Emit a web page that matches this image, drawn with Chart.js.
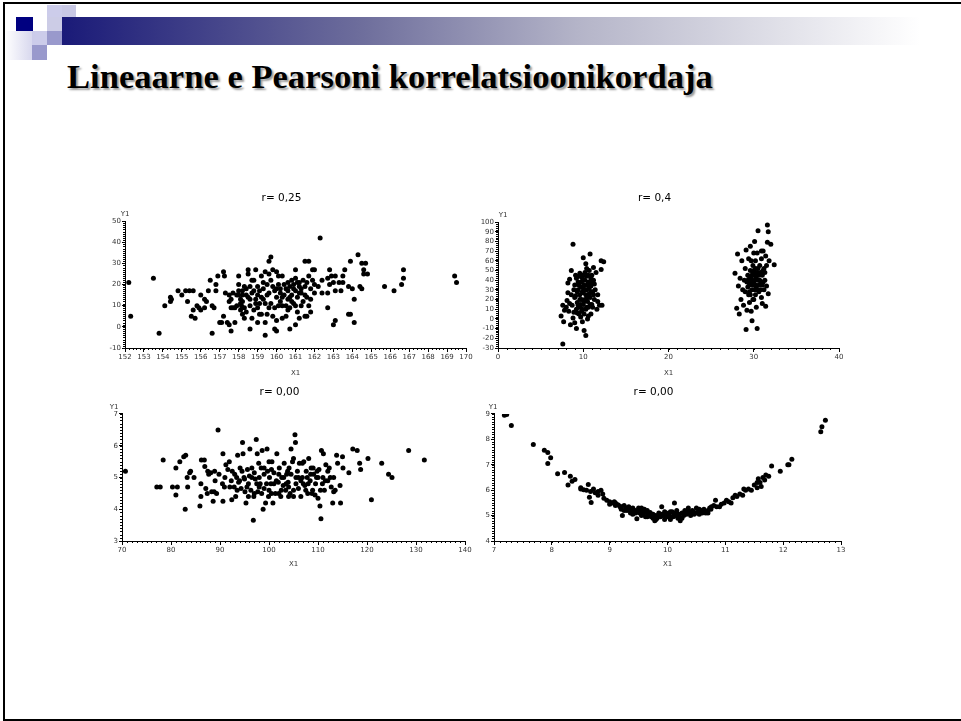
<!DOCTYPE html>
<html>
<head>
<meta charset="utf-8">
<script src="https://cdn.jsdelivr.net/npm/chart.js@4.4.1/dist/chart.umd.min.js"></script>
<style>
  html, body { margin: 0; padding: 0; background: #fff; width: 961px; height: 721px; overflow: hidden; position: relative; }
  .frame { position: absolute; left: 3px; top: 2px; width: 980px; height: 715px; border: 2px solid #000; border-right: none; }
  .sq { position: absolute; }
  .bar { position: absolute; left: 62px; top: 17px; width: 858px; height: 28px;
         background: linear-gradient(to right, #1a1a78 0%, #6e6e9c 35%, #b4b4c8 60%, #ffffff 100%); }
  .fade { position: absolute; left: 5px; top: 31px; width: 27px; height: 29px;
          background: linear-gradient(to right, #ffffff, #d8d8ee); }
  h1 { position: absolute; left: 67px; top: 59px; margin: 0; font: bold 34.6px/1 "Liberation Serif", "Times New Roman", serif;
       color: #000; text-shadow: 2px 2px 2px #9a9a9a; white-space: nowrap; }
  canvas { position: absolute; }
</style>
</head>
<body>
<div class="frame"></div>
<div class="bar"></div>
<div class="fade"></div>
<div class="sq" style="left:47px;top:5px;width:15px;height:12px;background:#ccccea"></div>
<div class="sq" style="left:62px;top:5px;width:14px;height:12px;background:#c8c8e4"></div>
<div class="sq" style="left:16px;top:17px;width:17px;height:14px;background:#000080"></div>
<div class="sq" style="left:47px;top:17px;width:15px;height:14px;background:#cccce6"></div>
<div class="sq" style="left:32px;top:31px;width:15px;height:14px;background:#ccccea"></div>
<div class="sq" style="left:47px;top:31px;width:15px;height:14px;background:#9999cc"></div>
<div class="sq" style="left:32px;top:45px;width:15px;height:15px;background:#9999cc"></div>
<h1>Lineaarne e Pearsoni korrelatsioonikordaja</h1>

<canvas id="c1"></canvas>
<canvas id="c2"></canvas>
<canvas id="c3"></canvas>
<canvas id="c4"></canvas>

<script>
// panel titles
const titles = ['r= 0,25', 'r= 0,4', 'r= 0,00', 'r= 0,00'];

// axis ranges and tick steps: [min, max, major step, minor step]
const xAxes = [[152, 170, 1, 0.2], [0, 40, 10, 1], [70, 140, 10, 1], [7, 13, 1, 0.1]];
const yAxes = [[-10, 50, 10, 1], [-30, 100, 10, 2], [3, 7, 1, 0.1], [4, 9, 1, 0.1]];

// r = 0,25
const points1 = [
  [152.2,21],[152.3,5],[153.5,23],[153.8,-3],[154.1,10],[154.4,12],[154.4,14],[154.45,13],[154.8,17],[155.0,15],
  [155.2,17],[155.4,17],[155.6,17],[155.5,5],[155.7,4],[155.6,8],[155.8,10],[155.9,9],[156.0,8],[156.0,15],
  [156.2,9],[156.3,12],[156.4,17],[156.5,22],[156.6,10],[156.6,-3],[156.7,9],[156.8,17],[156.8,20],[156.9,24],
  [157.2,26],[157.25,24],[157.0,2],[157.1,2],[157.2,5],[157.4,2],[157.5,1],[157.5,15],[157.6,13],[157.6,9],
  [157.6,-2],[157.7,16],[157.8,9],[157.9,10],[158.0,24],[158.0,17],[158.0,15],[158.1,13],[158.1,11],[158.15,10],
  [158.2,17],[158.2,12],[158.3,9],[158.3,4],[158.4,18],[158.4,7],[158.5,27],[158.5,25],[158.5,14],[158.6,10],
  [158.6,-1],[158.7,22],[158.7,16],[158.8,8],[158.8,17],[158.9,27],[158.9,11],[159.0,2],[159.0,15],[159.1,17],
  [159.1,11],[159.2,24],[159.2,6],[159.3,18],[159.3,13],[159.4,26],[159.4,-4],[159.4,11],[159.5,20],[159.5,6],
  [159.6,31],[159.6,25],[159.6,16],[159.7,33],[159.7,22],[159.7,11],[159.8,27],[159.8,5],[159.9,17],[159.9,9],
  [159.9,-1],[160.0,26],[160.0,14],[160.0,3],[160.0,-2],[160.1,20],[160.1,10],[160.2,18],[160.2,12],[160.3,24],
  [160.3,10],[160.4,15],[160.5,10],[160.5,5],[160.6,21],[160.6,17],[160.6,13],[160.7,19],[160.7,9],[160.7,-1],
  [160.8,22],[160.8,15],[160.9,20],[160.9,11],[161.0,27],[161.0,23],[161.0,17],[161.0,1],[161.1,21],[161.1,14],
  [161.1,7],[161.2,19],[161.2,4],[161.3,16],[161.3,10],[161.4,22],[161.4,12],[161.5,31],[161.5,19],[161.6,14],
  [161.6,5],[161.7,31],[161.7,24],[161.8,18],[161.8,13],[161.8,7],[161.9,27],[161.9,22],[162.0,27],[162.0,16],
  [162.3,42],[162.4,22],[162.4,16],[162.7,23],[162.7,16],[162.7,9],[162.8,27],[162.8,20],[162.9,24],[163.0,1],
  [163.1,24],[163.1,17],[163.1,3],[163.3,21],[163.4,17],[163.5,21],[163.6,27],[163.8,19],[163.8,6],[163.9,6],
  [163.9,31],[164.0,18],[164.1,13],[164.1,2],[164.3,34],[164.4,19],[164.5,30],[164.5,18],[164.6,27],[164.6,25],
  [164.7,30],[164.8,25],[165.7,19],[166.2,17],[166.6,20],[166.7,23],[166.7,27],[169.4,24],[169.5,21],
  [158.2,15],[158.6,13],[159.0,19],[160.4,20],[160.8,12],[161.2,16],[158.9,13],[157.9,15],
  [157.3,16],[157.5,12],[157.7,9],[158.0,20],[158.1,8],[158.3,19],[158.4,15],[158.6,19],[158.8,22],[159.0,9],
  [159.1,6],[159.2,14],[159.3,21],[159.5,15],[159.6,9],[159.8,19],[160.0,18],[160.1,24],[160.2,16],[160.3,14],
  [160.5,18],[160.6,8],[160.7,14],[160.9,18],[161.0,10],[161.2,21],[161.3,18],[161.5,15],[161.6,21],[161.7,10],
  [162.0,20],[162.2,19],[158.2,6],[157.8,2],[158.7,4],[159.4,2],[160.3,4],[161.5,5],[156.2,13],[155.3,12],
  [163.0,21],[163.5,24]
];

// r = 0,4
const points2 = [
  [7.6,-26],[7.4,3],[7.6,14],[7.7,-3],[7.8,9],[8.1,19],[8.2,27],[8.2,37],[8.4,41],[8.5,-6],
  [8.6,50],[8.7,14],[8.8,1],[8.8,77],[8.9,30],[9.0,22],[9.0,-4],[9.1,45],[9.2,10],[9.2,-10],
  [9.3,17],[9.3,28],[9.4,38],[9.5,5],[9.5,44],[9.6,12],[9.6,25],[9.7,33],[9.8,8],[9.8,20],
  [9.9,42],[9.9,-3],[10.0,15],[10.0,27],[10.0,63],[10.1,5],[10.1,35],[10.1,-12],[10.2,48],[10.2,20],
  [10.3,-17],[10.3,57],[10.3,10],[10.4,30],[10.4,44],[10.5,0],[10.5,22],[10.6,38],[10.6,12],[10.7,50],
  [10.7,26],[10.8,67],[10.8,15],[10.9,34],[10.9,5],[11.0,45],[11.1,28],[11.2,53],[11.2,40],[11.3,20],
  [11.4,30],[11.5,48],[11.6,10],[11.7,18],[11.7,25],[11.9,14],[12.1,60],[12.1,51],[12.2,14],[12.4,59],
  [9.4,14],[9.7,2],[10.2,40],[10.0,32],[9.1,24],[8.9,7],[10.5,18],[10.9,42],[11.1,12],[9.6,47],
  [8.4,16],[8.0,12],[9.5,35],[10.6,3],[11.3,36],
  [9.0,35],[9.2,42],[9.4,30],[9.6,20],[9.8,38],[9.9,28],[10.0,45],[10.1,18],[10.2,30],[10.3,25],
  [10.4,12],[10.5,35],[10.6,45],[10.7,32],[10.8,22],[10.9,28],[11.0,38],[11.0,15],[9.3,6],[9.7,15],
  [10.4,52],[8.6,25],[8.3,8],[11.2,25],[9.9,10],
  [27.8,47],[28.0,11],[28.1,67],[28.2,34],[28.3,5],[28.4,42],[28.5,20],[28.6,60],[28.7,30],[28.8,14],
  [29.0,28],[29.1,-11],[29.1,71],[29.2,38],[29.2,9],[29.3,45],[29.4,25],[29.4,62],[29.5,35],[29.5,17],
  [29.6,75],[29.6,50],[29.7,42],[29.7,8],[29.8,30],[29.8,-2],[29.9,55],[29.9,20],[30.0,68],[30.0,38],
  [30.1,80],[30.1,45],[30.2,25],[30.2,52],[30.3,33],[30.3,12],[30.4,-10],[30.4,68],[30.4,48],[30.5,91],
  [30.5,40],[30.6,28],[30.7,55],[30.8,36],[30.9,22],[30.9,62],[31.0,45],[31.0,16],[31.1,70],[31.2,30],
  [31.2,52],[31.3,40],[31.4,65],[31.4,13],[31.5,34],[31.5,55],[31.6,97],[31.6,79],[31.7,90],[31.7,26],
  [31.8,60],[32.0,77],[32.4,56],[29.5,44],[30.6,35],[29.9,47],[30.8,48],[29.3,33],[30.1,30],[31.1,38],
  [29.7,60],[30.0,20],
  [29.3,40],[29.5,28],[29.6,38],[29.8,45],[29.9,35],[30.0,50],[30.1,40],[30.2,35],[30.3,42],[30.4,30],
  [30.5,52],[30.6,45],[30.7,40],[30.8,30],[31.0,35],[31.1,50],[30.2,60],[29.6,25],[29.0,52],[31.3,48],
  [30.9,70],[28.9,40]
];

// r = 0,00 (cloud)
const points3 = [
  [70.7,5.2],[77.1,4.7],[77.8,4.7],[78.4,5.55],[80.3,4.7],[81.0,4.45],[81.0,5.3],[81.3,4.7],[81.8,5.5],[82.6,5.65],
  [83.0,5.7],[82.9,4.0],[83.3,5.0],[83.4,4.7],[83.8,5.15],[84.0,5.2],[84.7,5.0],[85.9,4.1],[86.1,4.4],[86.2,5.55],
  [86.1,4.8],[86.8,5.55],[86.9,5.35],[87.1,4.65],[87.4,4.5],[87.7,5.1],[88.1,5.15],[88.3,4.55],[88.6,4.25],[88.8,4.55],
  [88.9,5.2],[89.3,4.5],[89.6,6.5],[89.8,5.1],[90.6,5.75],[90.5,4.8],[90.6,4.25],[90.9,4.7],[91.2,5.4],[91.6,5.25],
  [91.9,5.5],[92.3,4.9],[92.4,4.3],[92.9,4.7],[93.2,4.4],[93.4,5.0],[93.6,5.7],[93.8,4.85],[94.1,5.3],[94.3,4.65],
  [94.6,6.1],[94.7,5.75],[94.9,5.0],[95.1,4.55],[95.3,4.2],[95.6,5.25],[95.8,4.8],[96.1,5.9],[96.3,4.6],[96.5,5.3],
  [96.8,3.65],[96.9,4.4],[97.2,4.95],[97.4,6.2],[97.6,5.75],[97.7,4.55],[97.9,5.45],[98.2,4.8],[98.4,5.3],[98.6,5.85],
  [98.8,4.0],[99.0,4.65],[99.3,4.2],[99.6,5.9],[99.7,5.2],[99.9,4.4],[100.1,5.0],[100.4,4.8],[100.6,5.5],[100.8,4.2],
  [101.0,5.15],[101.3,4.5],[101.6,5.75],[101.9,4.85],[102.1,5.3],[102.4,4.4],[102.6,5.0],[102.9,4.75],[103.1,5.45],[103.4,4.6],
  [103.6,5.1],[103.9,4.85],[104.1,5.3],[104.3,4.5],[104.5,5.9],[104.8,5.5],[105.0,4.4],[105.3,6.35],[105.4,6.1],[105.5,4.8],
  [105.8,5.2],[106.0,4.65],[106.2,5.45],[106.5,4.4],[106.8,5.0],[107.1,5.5],[107.3,4.75],[107.6,5.2],[107.9,4.5],[108.1,5.6],
  [108.4,4.9],[108.6,5.3],[108.9,4.6],[109.1,5.1],[109.4,4.45],[109.7,5.0],[110.0,4.35],[110.2,5.25],[110.4,4.1],[110.6,3.7],
  [110.7,5.85],[110.9,4.8],[111.1,5.75],[111.3,4.6],[111.6,5.4],[112.0,4.9],[112.3,5.3],[112.7,4.7],[113.0,4.2],[113.2,5.0],
  [113.5,4.6],[113.8,5.7],[114.0,5.45],[114.5,4.75],[114.6,4.2],[115.0,5.65],[115.1,5.3],[116.3,5.15],[117.1,5.9],[118.0,5.85],
  [118.5,5.45],[118.7,5.25],[120.2,5.6],[120.9,4.3],[123.0,5.45],[124.4,5.1],[125.1,5.0],[128.5,5.85],[131.7,5.55],
  [93.0,5.1],[95.0,4.95],[96.0,5.05],[98.0,4.7],[99.0,5.1],[100.0,4.6],[101.5,4.9],[103.0,5.0],[104.0,4.7],[105.5,5.0],
  [106.5,4.9],[107.5,4.6],[108.5,5.1],[109.5,4.8],[111.0,5.0],[102.0,5.1],[97.0,5.15],[94.0,4.9],[92.0,4.7],[105.0,5.6],
  [108.0,4.8],[110.0,5.0],[112.0,5.2],[100.5,5.25],[98.5,4.5],
  [91.0,5.0],[92.5,5.2],[93.5,4.6],[94.5,5.2],[95.5,4.7],[96.5,5.0],[97.5,4.8],[98.0,5.0],[99.5,4.8],[100.5,4.5],
  [101.0,4.8],[102.5,4.6],[103.5,4.8],[104.5,5.1],[105.0,4.6],[106.0,5.0],[107.0,4.8],[107.8,5.0],[108.8,4.5],[109.0,5.3],
  [110.5,4.6],[111.5,4.9],[112.5,5.0],[106.8,5.45],[103.8,5.2],[95.8,4.4],[89.0,4.9],[87.5,5.2],[100.0,5.5],[102.0,4.5],
  [104.0,4.4],[109.8,5.2],[99.0,5.3],[97.0,4.5],[113.2,4.55]
];

// r = 0,00 (curve)
const points4 = [
  [7.18,8.95],[7.2,9.0],[7.22,8.98],[7.3,8.55],[7.68,7.8],[7.87,7.57],[7.93,7.48],[7.93,7.05],[7.98,7.28],[8.1,6.65],
  [8.22,6.7],[8.28,6.2],[8.32,6.55],[8.35,6.35],[8.4,6.42],[8.5,6.1],[8.55,6.02],[8.6,6.0],[8.63,6.22],[8.65,5.72],
  [8.67,5.95],[8.68,5.52],[8.72,6.05],[8.75,5.9],[8.8,5.8],[8.85,6.0],[8.88,5.85],[8.9,5.68],[9.0,5.55],[9.05,5.5],
  [9.08,5.55],[9.12,5.45],[9.15,5.42],[9.18,5.35],[9.2,5.25],[9.22,5.0],[9.25,5.4],[9.28,5.3],[9.3,5.2],[9.33,5.35],
  [9.36,5.1],[9.38,5.25],[9.4,5.3],[9.42,5.15],[9.45,5.2],[9.47,4.88],[9.5,5.3],[9.52,5.1],[9.55,5.2],[9.58,5.05],
  [9.6,5.25],[9.62,4.95],[9.65,5.1],[9.68,5.0],[9.7,5.12],[9.72,4.95],[9.75,5.05],[9.78,4.8],[9.8,5.0],[9.82,4.9],
  [9.85,5.1],[9.88,4.95],[9.9,5.35],[9.92,5.0],[9.95,4.85],[9.98,5.1],[10.0,4.95],[10.02,5.05],[10.05,4.85],[10.08,5.15],
  [10.1,4.95],[10.12,5.5],[10.14,5.0],[10.16,5.2],[10.18,4.9],[10.2,5.05],[10.22,4.8],[10.25,5.1],[10.28,5.0],[10.3,5.2],
  [10.33,5.05],[10.36,5.3],[10.4,5.1],[10.43,5.2],[10.46,5.05],[10.5,5.3],[10.53,5.15],[10.56,5.2],[10.6,5.1],[10.63,5.25],
  [10.66,5.1],[10.7,5.2],[10.73,5.3],[10.76,5.35],[10.8,5.4],[10.83,5.6],[10.9,5.35],[10.93,5.45],[10.98,5.5],[11.02,5.6],
  [11.06,5.55],[11.1,5.5],[11.13,5.7],[11.17,5.8],[11.2,5.75],[11.25,5.85],[11.3,5.8],[11.32,6.05],[11.35,6.0],[11.45,6.0],
  [11.5,6.2],[11.55,6.1],[11.57,6.45],[11.6,6.3],[11.62,6.15],[11.65,6.5],[11.68,6.4],[11.7,6.6],[11.75,6.55],[11.8,6.95],
  [11.95,6.75],[12.08,7.0],[12.1,7.0],[12.15,7.22],[12.65,8.3],[12.67,8.5],[12.73,8.75],
  [9.35,5.28],[9.6,5.15],[9.75,4.9],[9.95,5.0],[10.05,5.15],[10.25,4.9],[10.45,5.15],[10.65,5.15],[9.1,5.5],[9.25,5.2],
  [9.55,5.0],[10.35,5.1],[10.55,5.05],[10.15,5.1],[9.85,5.0],[9.65,5.2],[8.95,5.6],
  [9.1,5.4],[9.2,5.35],[9.3,5.3],[9.4,5.05],[9.5,5.15],[9.55,5.3],[9.7,5.0],[9.8,4.85],[9.9,5.05],[10.0,5.05],
  [10.1,5.1],[10.2,5.0],[10.3,5.1],[10.4,5.0],[10.5,5.1],[10.6,5.2],[10.7,5.1],[10.75,5.25],[9.45,5.1],[9.65,4.95],
  [9.95,5.15],[10.05,4.95],[10.35,5.2],[10.55,5.25],[8.5,6.05],[8.8,5.95],[11.4,6.05],[11.55,6.3],[9.0,5.45],[10.85,5.35]
];

const allPoints = [points1, points2, points3, points4];

// plot-area placement on the slide: [left, right, top, bottom, title centre y, X1 centre y, Y1 dx]
const panels = [
  [125, 466, 221, 348, 198, 373, 0],
  [498, 839, 222, 348, 198, 373, 5],
  [122, 465, 414, 541, 392, 564, -8],
  [494, 841, 414, 541, 392, 564, -1]
];

const FONT = '"DejaVu Sans", Verdana, sans-serif';
const Y_W = 28, X_H = 34, PAD_R = 14;

const axisDecor = {
  id: 'axisDecor',
  afterDraw(chart, args, opts) {
    const { ctx, scales: { x, y }, chartArea } = chart;
    ctx.save();
    ctx.strokeStyle = '#000';
    ctx.lineWidth = 1;
    ctx.beginPath();
    const nx = Math.round((x.max - x.min) / opts.xMinor);
    for (let i = 0; i <= nx; i++) {
      const px = Math.round(x.getPixelForValue(x.min + i * opts.xMinor)) + 0.5;
      ctx.moveTo(px, x.top); ctx.lineTo(px, x.top + 2);
    }
    const ny = Math.round((y.max - y.min) / opts.yMinor);
    for (let i = 0; i <= ny; i++) {
      const py = Math.round(y.getPixelForValue(y.min + i * opts.yMinor)) + 0.5;
      ctx.moveTo(y.right - 2, py); ctx.lineTo(y.right, py);
    }
    ctx.stroke();
    ctx.fillStyle = '#333';
    ctx.font = '7px ' + FONT;
    ctx.textAlign = 'center';
    ctx.textBaseline = 'middle';
    ctx.fillText('Y1', chartArea.left + opts.dx, chartArea.top - 7);
    ctx.restore();
  }
};

panels.forEach((p, i) => {
  const [L, R, T, B, titleY, x1Y, y1dx] = p;
  const canvas = document.getElementById('c' + (i + 1));
  const left = L - Y_W;
  const top = titleY - 10;
  const w = R + PAD_R - left;
  const h = B + X_H - top;
  canvas.width = w; canvas.height = h;
  canvas.style.left = left + 'px';
  canvas.style.top = top + 'px';
  canvas.style.width = w + 'px';
  canvas.style.height = h + 'px';

  const [xmin, xmax, xstep, xminor] = xAxes[i];
  const [ymin, ymax, ystep, yminor] = yAxes[i];
  const titleBottom = T - (top + 4 + 12.6);
  const x1Bottom = X_H - (x1Y - B) - 4.2;

  new Chart(canvas, {
    type: 'scatter',
    data: {
      datasets: [{
        data: allPoints[i].map(([x, y]) => ({ x, y })),
        backgroundColor: '#000',
        borderColor: '#000',
        borderWidth: 0,
        pointRadius: 2.5,
        pointHoverRadius: 2.5
      }]
    },
    options: {
      responsive: false,
      animation: false,
      layout: { padding: { left: 0, right: PAD_R, top: 0, bottom: 0 } },
      scales: {
        x: {
          type: 'linear',
          min: xmin, max: xmax,
          afterFit: (s) => { s.height = X_H; },
          border: { display: true, color: '#000', width: 1 },
          grid: { display: true, drawOnChartArea: false, tickLength: 4, color: '#000' },
          ticks: { stepSize: xstep, autoSkip: false, maxRotation: 0, padding: 2, color: '#333',
                   font: { family: FONT, size: 7, lineHeight: 1 } },
          title: { display: true, text: 'X1', color: '#333', font: { family: FONT, size: 7 },
                   padding: { top: 0, bottom: x1Bottom } }
        },
        y: {
          type: 'linear',
          min: ymin, max: ymax,
          afterFit: (s) => { s.width = Y_W; },
          border: { display: true, color: '#000', width: 1 },
          grid: { display: true, drawOnChartArea: false, tickLength: 3, color: '#000' },
          ticks: { stepSize: ystep, autoSkip: false, padding: 1, color: '#333',
                   font: { family: FONT, size: 7, lineHeight: 1 } }
        }
      },
      plugins: {
        legend: { display: false },
        tooltip: { enabled: false },
        title: { display: true, text: titles[i], color: '#000',
                 font: { family: FONT, size: 10.5, weight: 'normal' },
                 padding: { top: 4, bottom: titleBottom } },
        axisDecor: { xMinor: xminor, yMinor: yminor, dx: y1dx }
      }
    },
    plugins: [axisDecor]
  });
});
</script>
</body>
</html>
